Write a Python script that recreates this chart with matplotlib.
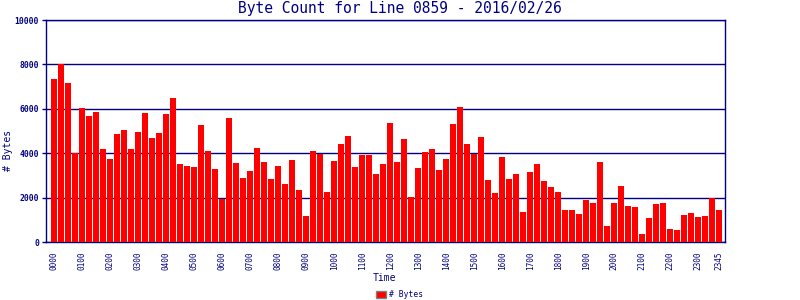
import numpy as np
import matplotlib
matplotlib.use("Agg")
import matplotlib.pyplot as plt
from matplotlib.patches import Patch

# byte counts per 15 minute slot, 0000 .. 2345
byte_counts = [7350, 8030, 7180, 4020, 6040, 5680, 5860, 4200, 3750, 4870,
               5050, 4200, 4960, 5820, 4690, 4920, 5770, 6490, 3520, 3430,
               3390, 5280, 4110, 3300, 1950, 5590, 3570, 2890, 3210, 4240,
               3610, 2850, 3430, 2620, 3700, 2350, 1180, 4110, 3970, 2260,
               3660, 4420, 4780, 3390, 3930, 3930, 3070, 3520, 5370, 3610,
               4650, 2040, 3340, 4060, 4200, 3250, 3750, 5320, 6090, 4420,
               3970, 4740, 2800, 2220, 3840, 2850, 3070, 1360, 3160, 3520,
               2760, 2490, 2260, 1450, 1450, 1270, 1900, 1770, 3610, 730,
               1770, 2530, 1630, 1590, 370, 1090, 1720, 1770, 600, 550,
               1230, 1320, 1140, 1180, 1990, 1450]

slots = ["%02d%02d" % (h, m) for h in range(24) for m in (0, 15, 30, 45)]
shown = [s for s in slots if s.endswith("00")] + ["2345"]
y_ticks = [0, 2000, 4000, 6000, 8000, 10000]

navy = "#000080"
mono = "DejaVu Sans Mono"

fig = plt.figure(figsize=(8, 3), dpi=100)
ax = fig.add_axes([0.0575, 0.193, 0.849, 0.74])

x = np.arange(len(byte_counts))
ax.bar(x, byte_counts, width=0.86, color="#ff0000", zorder=3)

ax.set_xlim(-1.15, len(byte_counts) - 0.15)
ax.set_ylim(0, 10000)
ax.set_yticks(y_ticks)
ax.set_yticklabels([str(v) for v in y_ticks], fontsize=5.8, family=mono,
                   color=navy, fontweight="bold")
ax.set_xticks([slots.index(s) for s in shown])
ax.set_xticklabels(shown, rotation=90, fontsize=5.6, family=mono, color=navy)
ax.tick_params(axis="y", colors=navy, length=3, width=1, pad=2)
ax.tick_params(axis="x", colors=navy, length=0, pad=7)

ax.grid(axis="y", color=navy, linewidth=1, zorder=1)
for sp in ax.spines.values():
    sp.set_color(navy)
    sp.set_linewidth(1)

fig.text(0.5, 0.97, "Byte Count for Line 0859 - 2016/02/26", ha="center",
         va="center", family=mono, fontsize=10.5, color=navy)
fig.text(0.01, 0.5, "# Bytes", rotation=90, ha="center", va="center",
         family=mono, fontsize=7, color=navy)
fig.text(0.481, 0.073, "Time", ha="center", va="center", family=mono,
         fontsize=7, color=navy)

fig.legend(handles=[Patch(facecolor="#ff0000", edgecolor="gray", label="# Bytes")],
           loc="center", bbox_to_anchor=(0.5, 0.018), frameon=False,
           prop={"family": mono, "size": 5.8}, labelcolor=navy,
           handlelength=1.2, handleheight=1.0, handletextpad=0.4)

fig.savefig("out.png", dpi=100)
